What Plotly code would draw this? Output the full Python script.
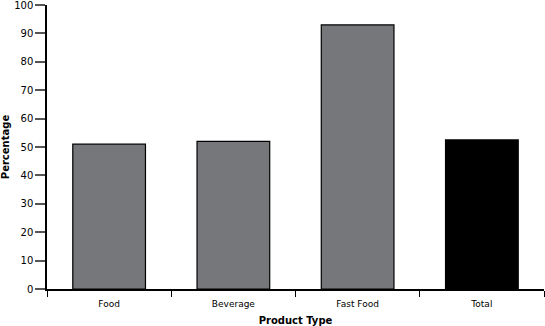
import plotly.graph_objects as go

categories = ["Food", "Beverage", "Fast Food", "Total"]
values = [51, 52, 93, 52.5]
colors = ["#76777b", "#76777b", "#76777b", "#000000"]

fig = go.Figure(go.Bar(
    x=categories, y=values,
    marker=dict(color=colors, line=dict(color="black", width=1.2)),
    width=0.585,
))

font = "DejaVu Sans, Verdana, sans-serif"
fig.update_layout(
    width=545, height=326,
    margin=dict(l=47, r=1, t=5, b=37),
    plot_bgcolor="white", paper_bgcolor="white",
    showlegend=False,
    font=dict(family=font, size=10, color="black"),
    xaxis=dict(
        title=dict(text="<b>Product Type</b>", font=dict(size=10), standoff=10),
        showline=True, linecolor="black", linewidth=1.5,
        ticks="outside", tickson="boundaries", ticklen=6, tickcolor="black",
        ticklabelstandoff=5,
        showgrid=False, tickfont=dict(size=9),
    ),
    yaxis=dict(
        title=dict(text="<b>Percentage</b>", font=dict(size=10), standoff=6),
        range=[0, 100], tickmode="array",
        tickvals=[0, 10, 20, 30, 40, 50, 60, 70, 80, 90, 100],
        ticktext=["0", "10", "20", "30", "40", "50", "60", "70", "80", "90", "100"],
        showline=True, linecolor="black", linewidth=1.5,
        ticks="outside", ticklen=10, tickcolor="#555555", tickwidth=1.5,
        showgrid=False, zeroline=False, tickfont=dict(size=10),
        ticklabeloverflow="allow", automargin=False,
    ),
)
fig.write_html("out.html")
